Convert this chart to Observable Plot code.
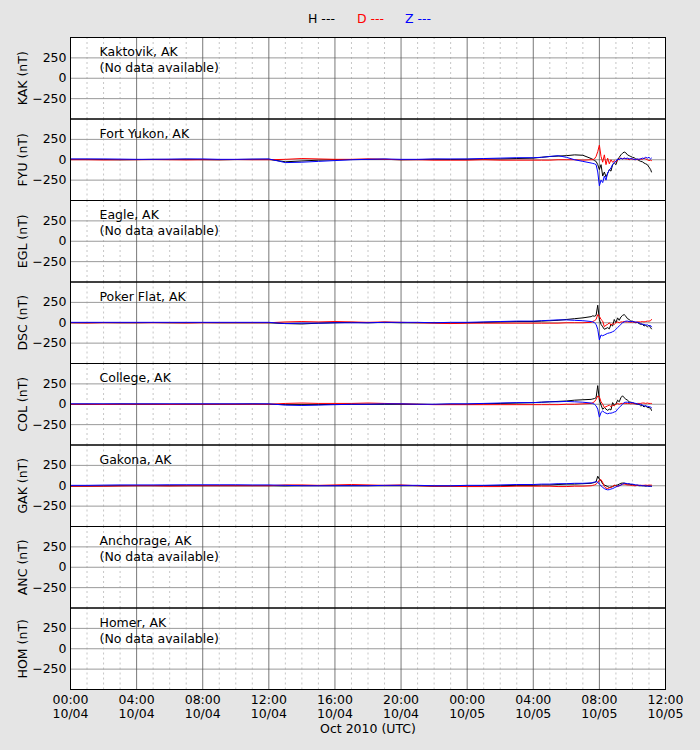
<!DOCTYPE html>
<html>
<head>
<meta charset="utf-8">
<script src="https://cdn.jsdelivr.net/npm/d3@7"></script>
<script src="https://cdn.jsdelivr.net/npm/@observablehq/plot@0.6"></script>
<style>
  body { margin: 0; background: #e5e5e5; font-family: "DejaVu Sans", sans-serif; }
  #legend { position: relative; height: 30px; width: 700px; font-size: 12.5px; line-height: 14px; }
  #legend span { position: absolute; top: 12px; white-space: pre; }
  #chart svg { display: block; }
</style>
</head>
<body>
<div id="legend">
  <span style="left:308px;color:#000">H ---</span>
  <span style="left:357px;color:#ff0000">D ---</span>
  <span style="left:405px;color:#0000ff">Z ---</span>
</div>
<div id="chart"></div>
<script>
// ---- Stations ----
const codes = ["KAK", "FYU", "EGL", "DSC", "COL", "GAK", "ANC", "HOM"];
const names = ["Kaktovik, AK", "Fort Yukon, AK", "Eagle, AK", "Poker Flat, AK", "College, AK", "Gakona, AK", "Anchorage, AK", "Homer, AK"];
const hasData = [false, true, false, true, true, true, false, false];

// ---- Sample times (hours after 2010-10-04 00:00 UTC) ----
const hours = [0,1,2,3,4,5,6,7,8,9,10,11,12,13,14,15,16,17,18,19,20,21,22,23,24,25,26,27,
  28,28.5,29,29.5,30,30.5,31,31.5,
  31.6,31.7,31.8,31.9,32.0,32.1,32.2,32.3,32.4,32.5,32.6,32.7,32.8,32.9,33.0,33.1,33.2,33.3,33.4,
  33.5,33.6,33.7,33.8,33.9,34.0,34.1,34.2,34.3,34.4,34.5,34.6,34.7,34.8,34.9,35.0,35.1,35.15];

// ---- Fort Yukon (FYU) ----
const fyuH = [5,5,3,0,2,5,3,5,2,0,3,5,5,-25,-15,-5,0,3,5,5,0,2,5,3,5,8,10,15,
  20,30,40,45,50,60,55,15,
  5,-10,-20,-60,-120,-60,-200,-150,-210,-170,-120,-140,-60,-40,-60,0,30,60,80,
  95,85,60,50,40,30,25,10,5,-10,-20,-25,-40,-50,-60,-90,-120,-150];
const fyuD = [0,0,-3,0,0,2,0,-2,0,0,2,0,0,5,15,10,5,5,10,5,0,0,-5,-5,-5,0,-5,-5,
  -5,-5,-5,0,0,0,-5,0,
  0,10,40,100,180,40,-30,60,-60,20,-50,0,-30,-10,-30,0,10,20,10,
  20,10,10,0,10,10,0,5,0,5,10,5,20,10,0,-10,-5,-10];
const fyuZ = [10,10,10,8,5,5,8,10,10,5,5,8,10,-35,-30,-20,-10,0,5,10,5,5,10,10,10,15,20,25,
  25,30,40,50,30,0,-20,-40,
  -45,-50,-60,-150,-320,-250,-280,-200,-250,-160,-130,-100,-60,-30,-20,10,0,20,10,
  20,15,20,10,15,10,5,0,10,5,10,20,15,30,20,30,10,20];

// ---- Poker Flat (DSC) ----
const dscH = [0,0,2,0,0,3,0,0,2,0,0,0,0,-10,-15,-5,0,5,0,5,0,0,0,-5,0,5,10,15,
  15,20,25,30,40,50,60,75,
  85,80,90,215,40,-20,-50,-80,-70,-60,-75,-20,-40,40,0,60,30,70,90,
  100,80,50,40,20,20,10,0,5,-10,-20,-15,-40,-30,-50,-30,-60,-75];
const dscD = [0,-3,0,0,0,0,0,-3,0,0,0,0,0,10,15,10,15,10,5,10,5,0,-5,-10,-5,-5,-5,-5,
  -5,-5,-5,-5,0,0,0,5,
  15,25,40,100,80,40,20,-50,-30,-20,0,-30,-10,-20,0,10,0,10,10,
  15,10,10,10,5,10,5,5,10,10,10,15,10,15,20,20,25,40];
const dscZ = [5,5,5,5,5,5,5,5,5,5,5,5,5,-10,-5,-5,0,0,0,5,5,5,0,5,5,10,15,20,
  20,25,30,35,35,30,25,15,
  10,0,-20,-80,-210,-150,-160,-150,-140,-130,-125,-120,-110,-100,-80,-60,-40,-20,0,
  10,20,20,15,15,15,10,10,5,0,-10,-20,-20,-30,-25,-40,-35,-50];

// ---- College (COL) ----
const colH = [0,0,0,2,0,0,0,0,0,0,0,3,0,-5,-5,-5,0,0,0,0,0,0,-3,0,0,5,10,15,
  20,25,30,35,40,50,55,60,
  65,70,80,229,50,-10,-62,-40,-60,-75,-60,-70,20,-10,0,50,30,80,104,
  80,62,50,30,25,20,10,5,0,0,-20,-15,-33,-20,-40,-40,-50,-75];
const colD = [0,0,-3,0,0,0,-3,0,0,0,0,0,0,10,15,10,10,10,15,10,5,0,-5,-5,-5,-5,-5,-5,
  -5,-5,-5,-5,0,0,5,10,
  20,30,60,100,90,30,0,-40,-30,-20,-10,-30,-10,-20,0,10,0,10,10,
  10,10,10,10,5,10,5,5,10,10,10,15,15,10,15,10,10,10];
const colZ = [5,5,5,5,5,5,5,5,5,5,5,5,5,-10,-15,-10,-5,0,0,5,5,0,0,5,5,10,15,20,
  20,25,30,30,35,30,25,15,
  10,0,-20,-60,-158,-100,-83,-100,-110,-117,-110,-110,-104,-95,-90,-60,-40,-20,0,
  20,25,25,20,20,20,15,10,5,0,0,-10,-20,-20,-25,-30,-35,-42];

// ---- Gakona (GAK) ----
const gakH = [-5,-5,-3,0,0,0,0,0,0,0,0,0,0,-3,0,0,0,0,0,0,0,0,-5,-5,-5,0,0,5,
  5,10,10,15,20,20,25,30,
  35,40,50,117,80,62,21,10,0,-10,-21,-15,-10,0,5,10,20,30,33,
  33,25,20,20,15,15,10,5,5,0,0,0,0,-5,0,-5,-5,-5];
const gakD = [-5,-5,-5,-3,0,0,-3,0,0,0,0,0,0,10,10,5,10,15,10,5,10,0,-5,-5,-10,-10,-10,-5,
  -5,-5,-5,-10,-10,-5,-5,0,
  5,10,20,40,70,75,40,-10,-30,-33,-25,-20,-10,8,0,-10,0,10,21,
  20,15,10,10,5,5,0,0,5,5,5,5,5,8,5,8,8,8];
const gakZ = [5,5,8,10,10,10,12,12,12,12,12,10,10,5,0,0,0,0,0,5,5,5,0,0,5,5,10,15,
  15,20,20,25,25,30,30,35,
  40,45,50,45,20,0,-20,-35,-45,-50,-48,-40,-35,-25,-15,-5,0,8,20,
  30,30,25,25,20,20,15,10,10,5,5,0,0,0,-5,-5,-5,-8];

// ---- Axis ticks ----
const yTicks = [-250, 0, 250];
const majorHours = [0, 4, 8, 12, 16, 20, 24, 28, 32, 36];
const xLabel = "Oct 2010 (UTC)";

// ---- Build tables ----
const t0 = Date.UTC(2010, 9, 4, 0, 0);
const toDate = h => new Date(t0 + h * 3600e3);
const seriesByStation = {
  FYU: {H: fyuH, D: fyuD, Z: fyuZ},
  DSC: {H: dscH, D: dscD, Z: dscZ},
  COL: {H: colH, D: colD, Z: colZ},
  GAK: {H: gakH, D: gakD, Z: gakZ}
};
const rows = [];
for (const [code, comps] of Object.entries(seriesByStation)) {
  for (const [comp, vals] of Object.entries(comps)) {
    hours.forEach((h, i) => rows.push({code, comp, t: toDate(h), v: vals[i]}));
  }
}
const stations = codes.map((code, i) => ({
  code,
  label: names[i] + (hasData[i] ? "" : "\n(No data available)")
}));
const majorDates = majorHours.map(toDate);
const minorDates = d3.range(0, 37).filter(h => h % 4 !== 0).map(toDate);
const fmt = d3.utcFormat("%H:%M\n%m/%d");

const lineOf = (comp, color) => Plot.line(rows.filter(d => d.comp === comp), {
  x: "t", y: "v", z: "code", fy: "code", stroke: color, strokeWidth: 1
});

const chart = Plot.plot({
  width: 700,
  height: 720,
  marginLeft: 70,
  marginRight: 35,
  marginTop: 7,
  marginBottom: 61,
  style: {fontFamily: "DejaVu Sans", fontSize: "12.5px", background: "transparent", color: "#000"},
  x: {type: "utc", domain: [toDate(0), toDate(36)]},
  y: {domain: [-500, 500]},
  fy: {domain: codes, padding: 0, round: false, axis: null, label: null},
  marks: [
    Plot.frame({fill: "white", stroke: null}),
    Plot.ruleX(minorDates, {stroke: "#b8b8b8", strokeWidth: 0.8, strokeDasharray: "2,3"}),
    Plot.ruleY(yTicks, {stroke: "#9a9a9a", strokeWidth: 1}),
    Plot.ruleX(majorDates, {stroke: "#555", strokeWidth: 0.8}),
    lineOf("H", "#000000"),
    lineOf("D", "#ff0000"),
    lineOf("Z", "#0000ff"),
    Plot.text(stations, {
      fy: "code", text: "label", frameAnchor: "top-left", textAnchor: "start",
      lineAnchor: "top", dx: 29, dy: 7, lineHeight: 1.3, fill: "#000",
      ariaLabel: "station-label"
    }),
    Plot.text(stations, {
      fy: "code", text: d => d.code + " (nT)", frameAnchor: "left", textAnchor: "middle",
      dx: -48, rotate: -90, fill: "#000"
    }),
    Plot.frame({stroke: "#000", strokeWidth: 1}),
    Plot.axisY({ticks: yTicks, tickSize: 0, tickPadding: 4, label: null}),
    Plot.axisX({ticks: majorDates, tickFormat: fmt, tickSize: 0, tickPadding: 5, label: null, lineHeight: 1.12}),
    Plot.text([{code: "HOM", text: xLabel}], {
      fy: "code", text: "text", frameAnchor: "bottom", dy: 43, fill: "#000"
    })
  ]
});

document.getElementById("chart").appendChild(chart);

// white boxes behind the station labels, sized from the rendered text
const svgns = "http://www.w3.org/2000/svg";
const svgEl = chart.tagName.toLowerCase() === "svg" ? chart : chart.querySelector("svg");
svgEl.querySelectorAll('g[aria-label="station-label"] text').forEach(t => {
  const b = t.getBBox();
  const r = document.createElementNS(svgns, "rect");
  r.setAttribute("x", b.x - 3);
  r.setAttribute("y", b.y - 2);
  r.setAttribute("width", b.width + 6);
  r.setAttribute("height", b.height + 3);
  r.setAttribute("fill", "white");
  r.setAttribute("stroke", "none");
  const tr = t.getAttribute("transform");
  if (tr) r.setAttribute("transform", tr);
  t.parentNode.insertBefore(r, t);
});
</script>
</body>
</html>
